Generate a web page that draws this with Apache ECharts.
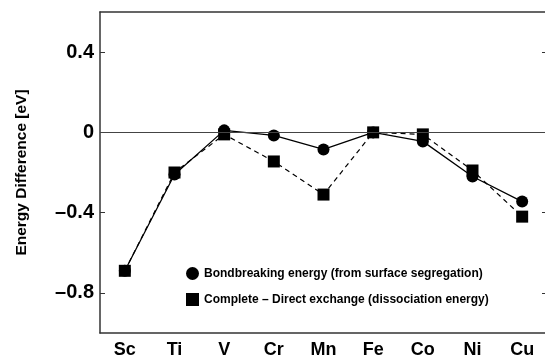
<!DOCTYPE html>
<html>
<head>
<meta charset="utf-8">
<script src="https://cdn.jsdelivr.net/npm/echarts@6/dist/echarts.min.js"></script>
<style>
  html, body { margin: 0; padding: 0; background: #fff; }
  #chart { width: 545px; height: 360px; }
</style>
</head>
<body>
<div id="chart"></div>
<script>
var elements = ['Sc', 'Ti', 'V', 'Cr', 'Mn', 'Fe', 'Co', 'Ni', 'Cu']
var bondbreaking = [-0.69, -0.21, 0.01, -0.015, -0.085, 0, -0.045, -0.22, -0.345]
var directExchange = [-0.69, -0.20, -0.01, -0.145, -0.31, 0, -0.01, -0.19, -0.42]
var yTicks = [-0.8, -0.4, 0, 0.4]

var font = '"Liberation Sans", Arial, Helvetica, sans-serif'
var axisColor = '#333'

var chart = echarts.init(document.getElementById('chart'))
var option = {
    animation: false,
    backgroundColor: '#fff',
    grid: {
        left: 100,
        top: 12,
        width: 447,
        height: 321,
        outerBoundsMode: 'none'
    },
    legend: {
        orient: 'vertical',
        left: 181,
        top: 262,
        itemWidth: 13,
        itemHeight: 13,
        itemGap: 13,
        textStyle: {
            fontFamily: font,
            fontWeight: 'bold',
            fontSize: 12,
            color: '#000'
        },
        data: [
            { name: 'Bondbreaking energy (from surface segregation)', icon: 'circle' },
            { name: 'Complete \u2013 Direct exchange (dissociation energy)', icon: 'rect' }
        ]
    },
    xAxis: [{
        type: 'category',
        data: elements,
        boundaryGap: true,
        axisLine: { onZero: false, lineStyle: { color: axisColor, width: 1.5 } },
        axisTick: { inside: true, alignWithLabel: true, length: 5, lineStyle: { color: axisColor } },
        axisLabel: {
            margin: 8,
            fontFamily: font,
            fontWeight: 'bold',
            fontSize: 18,
            color: '#000'
        },
        splitLine: { show: false }
    }, {
        type: 'category',
        data: elements,
        position: 'top',
        boundaryGap: true,
        axisLine: { onZero: false, lineStyle: { color: axisColor, width: 1.5 } },
        axisTick: { inside: true, alignWithLabel: true, length: 5, lineStyle: { color: axisColor } },
        axisLabel: { show: false },
        splitLine: { show: false }
    }],
    yAxis: [{
        type: 'value',
        min: -1.0,
        max: 0.6,
        name: 'Energy Difference [eV]',
        nameLocation: 'middle',
        nameGap: 70,
        nameTextStyle: {
            fontFamily: font,
            fontWeight: 'bold',
            fontSize: 15.5,
            color: '#000'
        },
        axisLine: { show: true, onZero: false, lineStyle: { color: axisColor, width: 1.5 } },
        axisTick: { show: true, inside: true, length: 5, customValues: yTicks, lineStyle: { color: axisColor } },
        axisLabel: {
            customValues: yTicks,
            margin: 6,
            fontFamily: font,
            fontWeight: 'bold',
            fontSize: 20,
            color: '#000',
            formatter: function (v) {
                if (v === 0) return '0'
                return (v < 0 ? '\u2013' : '') + Math.abs(v).toFixed(1)
            }
        },
        splitLine: { show: false }
    }, {
        type: 'value',
        min: -1.0,
        max: 0.6,
        position: 'right',
        axisLine: { show: true, onZero: false, lineStyle: { color: axisColor, width: 1.5 } },
        axisTick: { show: true, inside: true, length: 5, customValues: yTicks, lineStyle: { color: axisColor } },
        axisLabel: { show: false },
        splitLine: { show: false }
    }],
    series: [
        {
            name: 'Bondbreaking energy (from surface segregation)',
            type: 'line',
            data: bondbreaking,
            symbol: 'circle',
            symbolSize: 12,
            itemStyle: { color: '#000' },
            lineStyle: { color: '#000', width: 1.3 },
            z: 3,
            markLine: {
                silent: true,
                symbol: 'none',
                label: { show: false },
                lineStyle: { color: '#444', width: 1.2, type: 'solid' },
                data: [{ yAxis: 0 }]
            }
        },
        {
            name: 'Complete \u2013 Direct exchange (dissociation energy)',
            type: 'line',
            data: directExchange,
            symbol: 'rect',
            symbolSize: 12,
            itemStyle: { color: '#000' },
            lineStyle: { color: '#000', width: 1.2, type: [5, 4] },
            z: 4
        }
    ]
}
chart.setOption(option)
</script>
</body>
</html>
